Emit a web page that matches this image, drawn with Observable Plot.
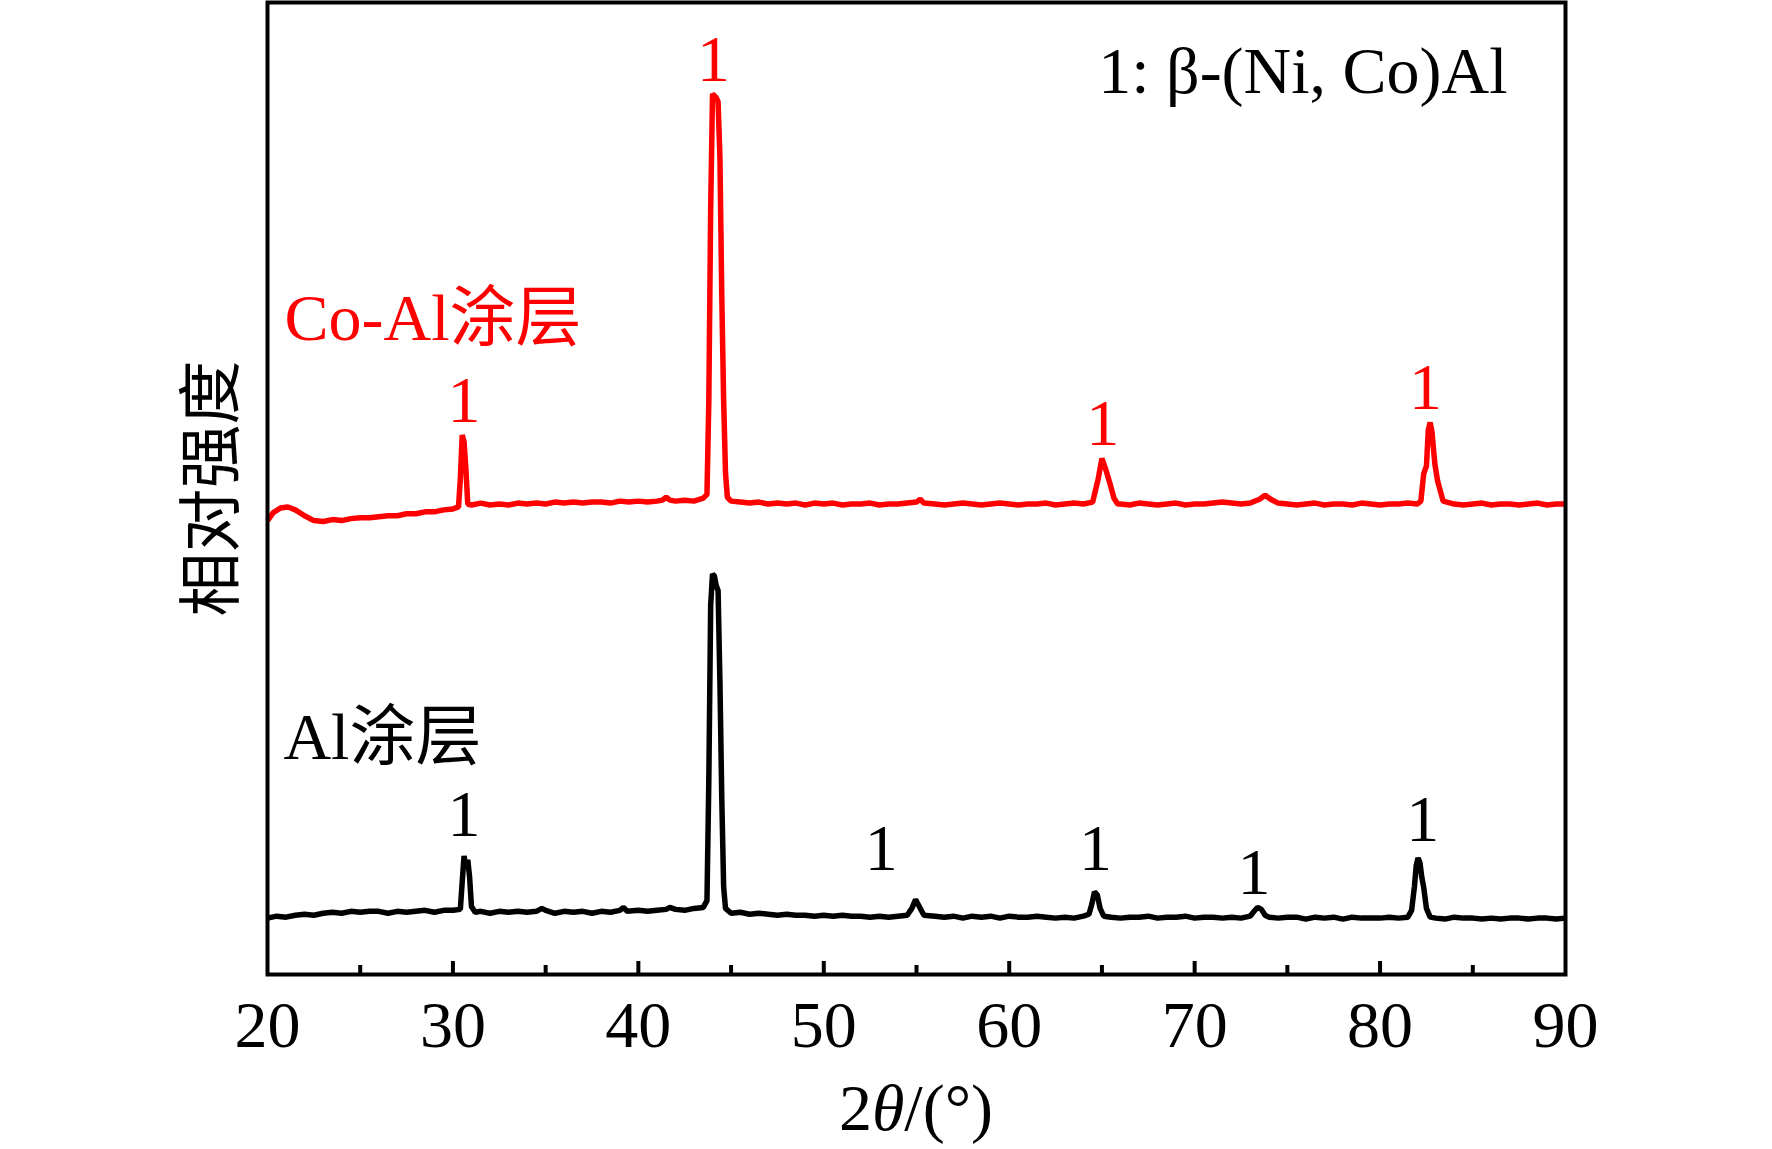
<!DOCTYPE html>
<html>
<head>
<meta charset="utf-8">
<script src="https://cdn.jsdelivr.net/npm/d3@7"></script>
<script src="https://cdn.jsdelivr.net/npm/@observablehq/plot@0.6"></script>
<style>
  html, body { margin: 0; padding: 0; background: #fff; }
</style>
</head>
<body>
<div id="chart"></div>
<script>
// ---- Data ----
const xTicks = [20, 30, 40, 50, 60, 70, 80, 90];
const xMinorTicks = [25, 35, 45, 55, 65, 75, 85];

// Al coating (black trace), 2θ (°) and intensity (a.u.)
const alTheta = [20.0,20.5,21.0,21.5,22.0,22.5,23.0,23.5,24.0,24.5,25.0,25.5,26.0,26.5,27.0,27.5,28.0,28.5,29.0,29.5,30.0,30.4,30.5,30.6,30.7,30.8,30.9,31.0,31.2,31.5,32.0,32.5,33.0,33.5,34.0,34.5,34.8,35.0,35.5,36.0,36.5,37.0,37.5,38.0,38.5,39.0,39.2,39.4,40.0,40.5,41.0,41.5,41.7,42.0,42.5,43.0,43.5,43.7,43.8,43.9,44.0,44.1,44.2,44.3,44.4,44.5,44.6,44.7,45.0,45.5,46.0,46.5,47.0,47.5,48.0,48.5,49.0,49.5,50.0,50.5,51.0,51.5,52.0,52.5,53.0,53.5,54.0,54.5,54.75,54.95,55.15,55.4,56.0,56.5,57.0,57.5,58.0,58.5,59.0,59.5,60.0,60.5,61.0,61.5,62.0,62.5,63.0,63.5,64.0,64.3,64.45,64.6,64.75,64.9,65.1,65.5,66.0,66.5,67.0,67.5,68.0,68.5,69.0,69.5,70.0,70.5,71.0,71.5,72.0,72.5,73.0,73.2,73.4,73.6,73.8,74.0,74.5,75.0,75.5,76.0,76.5,77.0,77.5,78.0,78.5,79.0,79.5,80.0,80.5,81.0,81.5,81.7,81.85,81.95,82.05,82.15,82.25,82.35,82.5,82.7,83.0,83.5,84.0,84.5,85.0,85.5,86.0,86.5,87.0,87.5,88.0,88.5,89.0,89.5,90.0];
const alI = [58,60,59,61,62,61,63,64,63,65,64,65,65,63,65,64,65,66,64,66,66,67,95,122,110,118,100,70,64,65,63,65,64,65,64,65,68,66,63,65,64,65,63,65,64,66,69,65,66,65,66,67,69,67,66,68,69,76,200,380,412,410,400,395,300,180,90,68,63,64,62,63,62,61,62,61,61,60,61,60,61,60,60,59,60,59,60,61,68,77,70,61,60,59,60,58,60,59,60,58,60,59,59,60,59,58,59,58,60,62,72,85,82,68,60,59,58,59,59,60,58,59,59,60,58,59,59,58,59,58,60,65,69,67,61,59,58,59,59,57,59,58,59,57,59,58,58,58,59,58,59,66,90,112,120,115,100,90,68,59,58,57,59,58,58,57,58,57,58,58,57,58,58,57,58];

// Co-Al coating (red trace), 2θ (°) and intensity (a.u.), drawn with a vertical offset
const coAlTheta = [20.0,20.3,20.7,21.1,21.5,22.0,22.5,23.0,23.5,24.0,24.5,25.0,25.5,26.0,26.5,27.0,27.5,28.0,28.5,29.0,29.5,30.0,30.3,30.4,30.5,30.6,30.7,30.8,31.0,31.5,32.0,32.5,33.0,33.5,34.0,34.5,35.0,35.5,36.0,36.5,37.0,37.5,38.0,38.5,39.0,39.5,40.0,40.5,41.0,41.3,41.5,41.7,42.0,42.5,43.0,43.5,43.7,43.8,43.9,44.0,44.1,44.2,44.3,44.4,44.5,44.6,44.7,44.8,45.0,45.5,46.0,46.5,47.0,47.5,48.0,48.5,49.0,49.5,50.0,50.5,51.0,51.5,52.0,52.5,53.0,53.5,54.0,54.5,55.0,55.2,55.4,56.0,56.5,57.0,57.5,58.0,58.5,59.0,59.5,60.0,60.5,61.0,61.5,62.0,62.5,63.0,63.5,64.0,64.5,64.65,64.8,65.0,65.2,65.45,65.65,65.85,66.0,66.5,67.0,67.5,68.0,68.5,69.0,69.5,70.0,70.5,71.0,71.5,72.0,72.5,73.0,73.5,73.8,74.1,74.5,75.0,75.5,76.0,76.5,77.0,77.5,78.0,78.5,79.0,79.5,80.0,80.5,81.0,81.5,82.0,82.2,82.35,82.5,82.6,82.7,82.8,82.95,83.1,83.4,84.0,84.5,85.0,85.5,86.0,86.5,87.0,87.5,88.0,88.5,89.0,89.5,90.0];
const coAlI = [47,55,60,61,58,52,47,46,48,47,49,50,50,51,52,52,54,54,56,56,58,59,61,90,135,128,100,64,63,65,63,64,63,65,64,65,64,66,65,66,65,66,66,65,67,66,67,66,67,68,71,68,67,68,67,70,74,170,368,486,484,482,478,420,277,170,96,71,67,66,65,66,64,65,64,65,63,65,64,65,63,64,64,65,63,64,64,65,66,69,65,64,63,64,65,64,63,64,65,64,63,64,64,65,63,64,65,64,66,78,90,111,100,84,70,64,64,63,65,64,63,64,65,63,64,64,65,66,65,64,65,69,73,69,65,64,63,64,65,63,64,64,63,65,64,63,64,64,65,64,67,95,103,140,148,138,106,88,67,64,63,64,65,63,64,64,63,64,65,63,64,64,63,64];
const coAlOffset = 420;

// Peak markers "1" (β-(Ni,Co)Al): position in 2θ and label baseline in each trace's own intensity units
const alPeakTheta = [30.6, 53.1, 64.65, 73.2, 82.3];
const alPeakLabelI = [143, 107, 107, 83, 137];
const coAlPeakTheta = [30.6, 44.05, 65.05, 82.45];
const coAlPeakLabelI = [148, 499, 125, 162];

// Texts
const seriesNames = ["Al涂层", "Co-Al涂层"];
const seriesColors = ["#000000", "#ff0000"];
const seriesLabelTheta = [20.86, 20.92];
const seriesLabelI = [222, 233]; // Co-Al label baseline in its own units (offset added)
const legendText = "1: β-(Ni, Co)Al";
const legendTheta = 64.8;
const legendI = 907;
const yLabel = "相对强度";

// ---- Build tables ----
const al = alTheta.map((t, i) => ({t, v: alI[i]}));
const coAl = coAlTheta.map((t, i) => ({t, v: coAlI[i] + coAlOffset}));
const alPeaks = alPeakTheta.map((t, i) => ({t, v: alPeakLabelI[i]}));
const coAlPeaks = coAlPeakTheta.map((t, i) => ({t, v: coAlPeakLabelI[i] + coAlOffset}));
const names = seriesNames.map((n, i) => ({n, t: seriesLabelTheta[i], v: seriesLabelI[i] + (i === 1 ? coAlOffset : 0), c: seriesColors[i]}));

const serif = "'Liberation Serif', 'Times New Roman', 'Noto Sans CJK SC', serif";
const W = 1772, H = 1149;
const mT = 2, mB = 175, mL = 267, mR = 207;
const frameH = H - mT - mB;

const plot = Plot.plot({
  width: W,
  height: H,
  marginTop: mT,
  marginBottom: mB,
  marginLeft: mL,
  marginRight: mR,
  style: {fontFamily: serif, background: "#fff", color: "#000"},
  x: {domain: [20, 90]},
  y: {domain: [0, 1000], axis: null},
  marks: [
    Plot.axisX({ticks: xTicks, tickSize: 0, tickPadding: 26, fontSize: 66, fontFamily: serif, label: null}),
    Plot.line(al, {x: "t", y: "v", stroke: seriesColors[0], strokeWidth: 5.5, strokeLinejoin: "miter", strokeLinecap: "butt"}),
    Plot.line(coAl, {x: "t", y: "v", stroke: seriesColors[1], strokeWidth: 5.5, strokeLinejoin: "miter", strokeLinecap: "butt"}),
    Plot.tickX(xTicks.slice(1, -1), {x: d => d, stroke: "#000", strokeWidth: 4, insetTop: frameH - 13}),
    Plot.tickX(xMinorTicks, {x: d => d, stroke: "#000", strokeWidth: 4, insetTop: frameH - 9}),
    Plot.text(alPeaks, {x: "t", y: "v", text: () => "1", fill: seriesColors[0], fontSize: 66, fontFamily: serif, lineAnchor: "bottom"}),
    Plot.text(coAlPeaks, {x: "t", y: "v", text: () => "1", fill: seriesColors[1], fontSize: 66, fontFamily: serif, lineAnchor: "bottom"}),
    Plot.text(names, {x: "t", y: "v", text: "n", fill: "c", fontSize: 66, fontFamily: serif, textAnchor: "start", lineAnchor: "bottom"}),
    Plot.text([legendText], {x: () => legendTheta, y: () => legendI, text: d => d, fill: "#000", fontSize: 66, fontFamily: serif, textAnchor: "start", lineAnchor: "bottom"}),
    Plot.text([yLabel], {frameAnchor: "left", text: d => d, rotate: -90, dx: -55, textAnchor: "middle", lineAnchor: "middle", fontSize: 64, fontFamily: serif, fill: "#000"}),
    Plot.frame({stroke: "#000", strokeWidth: 4})
  ]
});

// x-axis title with italic θ
const xs = plot.scale("x");
const xt = d3.select(plot).append("text")
  .attr("x", xs.apply(55))
  .attr("y", 1130)
  .attr("text-anchor", "middle")
  .attr("font-size", 66)
  .attr("font-family", serif)
  .attr("fill", "#000");
xt.append("tspan").text("2");
xt.append("tspan").attr("font-style", "italic").text("θ");
xt.append("tspan").text("/(°)");

document.getElementById("chart").appendChild(plot);
</script>
</body>
</html>
